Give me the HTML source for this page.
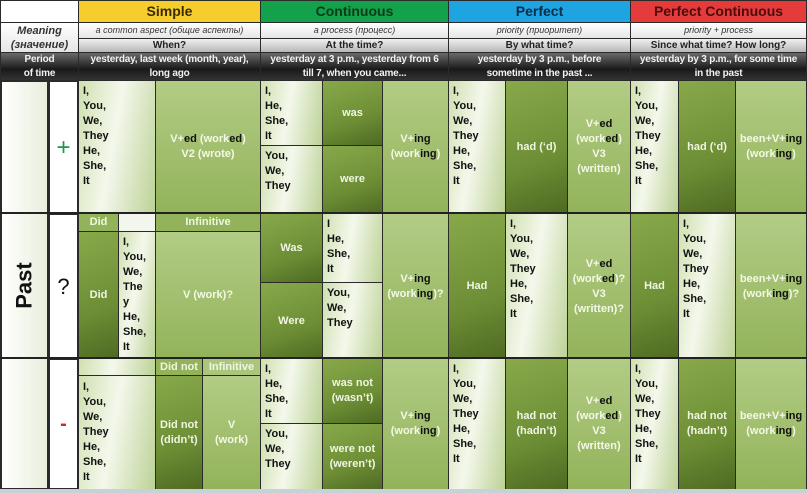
<!DOCTYPE html><html><head><meta charset="utf-8"><style>
body{margin:0;width:807px;height:493px;background:#fff;overflow:hidden;font-family:"Liberation Sans",sans-serif;font-weight:bold;}
.c{position:absolute;box-sizing:border-box;border:1px solid #2a2a2a;display:flex;align-items:center;justify-content:center;text-align:center;font-size:11px;line-height:15px;overflow:hidden}
.c>div{white-space:nowrap}
.L{background:linear-gradient(100deg,#cfe0b0 0%,#f4f8ec 45%,#bcd296 100%);color:#111;justify-content:flex-start;align-items:flex-start;text-align:left;padding:3px 0 0 4px}
.G{background:linear-gradient(180deg,#b2cc85,#93b35a);color:#f4f8e8}
.D{background:linear-gradient(160deg,#88a94a 0%,#6d8e35 60%,#4e6a22 100%);color:#f0f5e4}
.H{background:#93b35a;color:#f0f5e4;font-size:11px}
.k{color:#111}
.M{background:linear-gradient(#fff,#e6e6e6);color:#333;font-style:italic;font-weight:normal;font-size:9px}
.Q{background:linear-gradient(#f0f0f0,#b8b8b8);color:#222;font-size:10px}
.P{background:linear-gradient(#6a6a6a,#1a1a1a 60%,#333);color:#f2f2f2;font-size:10px;letter-spacing:-0.2px}
</style></head><body>
<div class="c" style="left:0;top:0;width:79px;height:23px;background:#fff"></div>
<div class="c" style="left:78px;top:0;width:183px;height:23px;background:#f5cd2c;color:#3a2a00;font-size:14px"><div>Simple</div></div>
<div class="c" style="left:260px;top:0;width:189px;height:23px;background:#13a14c;color:#0d3a18;font-size:14px"><div>Continuous</div></div>
<div class="c" style="left:448px;top:0;width:183px;height:23px;background:#1ea4e0;color:#0b2c4a;font-size:14px"><div>Perfect</div></div>
<div class="c" style="left:630px;top:0;width:177px;height:23px;background:#e63b3b;color:#4a0b0b;font-size:14px"><div>Perfect Continuous</div></div>
<div class="c M" style="left:0;top:22px;width:79px;height:31px;font-size:11px;font-weight:bold;line-height:14px"><div>Meaning<br>(значение)</div></div>
<div class="c M" style="left:78px;top:22px;width:183px;height:17px"><div>a common aspect (общие аспекты)</div></div>
<div class="c M" style="left:260px;top:22px;width:189px;height:17px"><div>a process (процесс)</div></div>
<div class="c M" style="left:448px;top:22px;width:183px;height:17px"><div>priority (приоритет)</div></div>
<div class="c M" style="left:630px;top:22px;width:177px;height:17px"><div>priority + process</div></div>
<div class="c Q" style="left:78px;top:38px;width:183px;height:15px"><div>When?</div></div>
<div class="c Q" style="left:260px;top:38px;width:189px;height:15px"><div>At the time?</div></div>
<div class="c Q" style="left:448px;top:38px;width:183px;height:15px"><div>By what time?</div></div>
<div class="c Q" style="left:630px;top:38px;width:177px;height:15px"><div>Since what time? How long?</div></div>
<div class="c P" style="left:0;top:52px;width:79px;height:29px;line-height:14px"><div>Period<br>of time</div></div>
<div class="c P" style="left:78px;top:52px;width:183px;height:29px;line-height:14px"><div>yesterday, last week (month, year),<br>long ago</div></div>
<div class="c P" style="left:260px;top:52px;width:189px;height:29px;line-height:14px"><div>yesterday at 3 p.m., yesterday from 6<br>till 7, when you came...</div></div>
<div class="c P" style="left:448px;top:52px;width:183px;height:29px;line-height:14px"><div>yesterday by 3 p.m., before<br>sometime in the past ...</div></div>
<div class="c P" style="left:630px;top:52px;width:177px;height:29px;line-height:14px"><div>yesterday by 3 p.m., for some time<br>in the past</div></div>
<div class="c" style="left:0;top:80px;width:49px;height:410px;background:linear-gradient(90deg,#fff,#e8eedc);border-width:2px"><div style="transform:rotate(-90deg);font-size:22px;color:#111">Past</div></div>
<div class="c" style="left:48px;top:80px;width:31px;height:134px;background:#fff;color:#1a9a4a;font-size:24px;font-weight:normal;border-width:2px"><div>+</div></div>
<div class="c" style="left:48px;top:213px;width:31px;height:147px;background:#fff;color:#111;font-size:22px;font-weight:normal;border-width:2px"><div>?</div></div>
<div class="c" style="left:48px;top:358px;width:31px;height:132px;background:#fff;color:#d22;font-size:20px;border-width:2px"><div>-</div></div>
<div class="c L" style="left:78px;top:80px;width:78px;height:134px"><div>I,<br>You,<br>We,<br>They<br>He,<br>She,<br>It</div></div>
<div class="c G" style="left:155px;top:80px;width:106px;height:134px"><div>V+<span class="k">ed</span> (work<span class="k">ed</span>)<br>V2 (wrote)</div></div>
<div class="c L" style="left:260px;top:80px;width:63px;height:66px"><div>I,<br>He,<br>She,<br>It</div></div>
<div class="c L" style="left:260px;top:145px;width:63px;height:69px"><div>You,<br>We,<br>They</div></div>
<div class="c D" style="left:322px;top:80px;width:61px;height:66px"><div>was</div></div>
<div class="c D" style="left:322px;top:145px;width:61px;height:69px"><div>were</div></div>
<div class="c G" style="left:382px;top:80px;width:67px;height:134px"><div>V+<span class="k">ing</span><br>(work<span class="k">ing</span>)</div></div>
<div class="c L" style="left:448px;top:80px;width:58px;height:134px"><div>I,<br>You,<br>We,<br>They<br>He,<br>She,<br>It</div></div>
<div class="c D" style="left:505px;top:80px;width:63px;height:134px"><div>had (‘d)</div></div>
<div class="c G" style="left:567px;top:80px;width:64px;height:134px"><div>V+<span class="k">ed</span><br>(work<span class="k">ed</span>)<br>V3<br>(written)</div></div>
<div class="c L" style="left:630px;top:80px;width:49px;height:134px"><div>I,<br>You,<br>We,<br>They<br>He,<br>She,<br>It</div></div>
<div class="c D" style="left:678px;top:80px;width:58px;height:134px"><div>had (‘d)</div></div>
<div class="c G" style="left:735px;top:80px;width:72px;height:134px"><div>been+V+<span class="k">ing</span><br>(work<span class="k">ing</span>)</div></div>
<div class="c H" style="left:78px;top:213px;width:41px;height:19px"><div>Did</div></div>
<div class="c" style="left:118px;top:213px;width:38px;height:19px;background:#f3f6ec"></div>
<div class="c H" style="left:155px;top:213px;width:106px;height:19px"><div>Infinitive</div></div>
<div class="c D" style="left:78px;top:231px;width:41px;height:129px"><div>Did</div></div>
<div class="c L" style="left:118px;top:231px;width:38px;height:129px"><div>I,<br>You,<br>We,<br>The<br>y<br>He,<br>She,<br>It</div></div>
<div class="c G" style="left:155px;top:231px;width:106px;height:129px"><div>V (work)?</div></div>
<div class="c D" style="left:260px;top:213px;width:63px;height:70px"><div>Was</div></div>
<div class="c D" style="left:260px;top:282px;width:63px;height:78px"><div>Were</div></div>
<div class="c L" style="left:322px;top:213px;width:61px;height:70px"><div>I<br>He,<br>She,<br>It</div></div>
<div class="c L" style="left:322px;top:282px;width:61px;height:78px"><div>You,<br>We,<br>They</div></div>
<div class="c G" style="left:382px;top:213px;width:67px;height:147px"><div>V+<span class="k">ing</span><br>(work<span class="k">ing</span>)?</div></div>
<div class="c D" style="left:448px;top:213px;width:58px;height:147px"><div>Had</div></div>
<div class="c L" style="left:505px;top:213px;width:63px;height:147px"><div>I,<br>You,<br>We,<br>They<br>He,<br>She,<br>It</div></div>
<div class="c G" style="left:567px;top:213px;width:64px;height:147px"><div>V+<span class="k">ed</span><br>(work<span class="k">ed</span>)?<br>V3<br>(written)?</div></div>
<div class="c D" style="left:630px;top:213px;width:49px;height:147px"><div>Had</div></div>
<div class="c L" style="left:678px;top:213px;width:58px;height:147px"><div>I,<br>You,<br>We,<br>They<br>He,<br>She,<br>It</div></div>
<div class="c G" style="left:735px;top:213px;width:72px;height:147px"><div>been+V+<span class="k">ing</span><br>(work<span class="k">ing</span>)?</div></div>
<div class="c L" style="left:78px;top:358px;width:78px;height:18px;padding:0"></div>
<div class="c L" style="left:78px;top:375px;width:78px;height:115px;padding-top:4px"><div>I,<br>You,<br>We,<br>They<br>He,<br>She,<br>It</div></div>
<div class="c H" style="left:155px;top:358px;width:48px;height:18px"><div>Did not</div></div>
<div class="c H" style="left:202px;top:358px;width:59px;height:18px;background:#a9c67a"><div>Infinitive</div></div>
<div class="c D" style="left:155px;top:375px;width:48px;height:115px"><div>Did not<br>(didn’t)</div></div>
<div class="c G" style="left:202px;top:375px;width:59px;height:115px"><div>V<br>(work)</div></div>
<div class="c L" style="left:260px;top:358px;width:63px;height:66px"><div>I,<br>He,<br>She,<br>It</div></div>
<div class="c L" style="left:260px;top:423px;width:63px;height:67px"><div>You,<br>We,<br>They</div></div>
<div class="c D" style="left:322px;top:358px;width:61px;height:66px"><div>was not<br>(wasn’t)</div></div>
<div class="c D" style="left:322px;top:423px;width:61px;height:67px"><div>were not<br>(weren’t)</div></div>
<div class="c G" style="left:382px;top:358px;width:67px;height:132px"><div>V+<span class="k">ing</span><br>(work<span class="k">ing</span>)</div></div>
<div class="c L" style="left:448px;top:358px;width:58px;height:132px"><div>I,<br>You,<br>We,<br>They<br>He,<br>She,<br>It</div></div>
<div class="c D" style="left:505px;top:358px;width:63px;height:132px"><div>had not<br>(hadn’t)</div></div>
<div class="c G" style="left:567px;top:358px;width:64px;height:132px"><div>V+<span class="k">ed</span><br>(work<span class="k">ed</span>)<br>V3<br>(written)</div></div>
<div class="c L" style="left:630px;top:358px;width:49px;height:132px"><div>I,<br>You,<br>We,<br>They<br>He,<br>She,<br>It</div></div>
<div class="c D" style="left:678px;top:358px;width:58px;height:132px"><div>had not<br>(hadn’t)</div></div>
<div class="c G" style="left:735px;top:358px;width:72px;height:132px"><div>been+V+<span class="k">ing</span><br>(work<span class="k">ing</span>)</div></div>
<div style="position:absolute;left:0;top:212px;width:807px;height:2px;background:#222"></div>
<div style="position:absolute;left:0;top:357px;width:807px;height:2px;background:#222"></div>
<div style="position:absolute;left:0;top:489px;width:807px;height:4px;background:#c8d0d8"></div>
</body></html>
